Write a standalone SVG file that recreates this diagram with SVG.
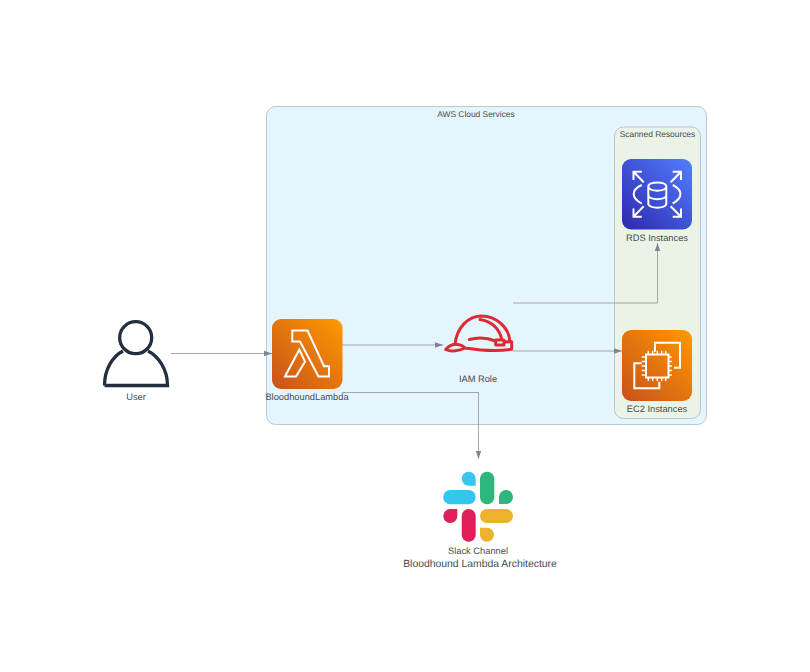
<svg xmlns="http://www.w3.org/2000/svg" width="810" height="672" viewBox="0 0 810 672">
<style>
text{font-family:"Liberation Sans",Arial,sans-serif;fill:#454c50;text-anchor:middle;font-size:9.3px;text-rendering:geometricPrecision}
.c{font-size:8.4px}
.e{fill:none;stroke:#7b8794;stroke-width:.7}
.w{fill:none;stroke:#fff;stroke-width:2;stroke-linejoin:miter}
.h{fill:none;stroke:#dd2a35;stroke-width:3;stroke-linecap:round;stroke-linejoin:round}
</style>
<defs>
<linearGradient id="o" x1="0" y1="1" x2="1" y2="0"><stop offset="0" stop-color="#c8511b"/><stop offset="1" stop-color="#f90"/></linearGradient>
<linearGradient id="b" x1="0" y1="1" x2="1" y2="0"><stop offset="0" stop-color="#2e27ad"/><stop offset="1" stop-color="#527fff"/></linearGradient>
<marker id="a" markerUnits="userSpaceOnUse" markerWidth="8" markerHeight="7" refX="8" refY="3.500" orient="auto"><path d="M0 .8L8 3.500L0 6.200z" fill="#7b8794"/></marker>
</defs>
<rect width="810" height="672" fill="#fff"/>
<g id="cluster-aws"><rect x="266.500" y="106.500" width="440" height="318" rx="9" fill="#e5f5fd" stroke="#a9bcc8" stroke-width=".8"/><text class="c" x="476" y="117">AWS Cloud Services</text></g>
<g id="cluster-scanned"><rect x="614.500" y="127" width="86" height="291.500" rx="9" fill="#ebf3e7" stroke="#a9bcc8" stroke-width=".8"/><text class="c" x="657.500" y="137">Scanned Resources</text></g>
<g id="connectors">
<path class="e" marker-end="url(#a)" d="M171 353.500H272"/>
<path class="e" marker-end="url(#a)" d="M342 345H443"/>
<path class="e" marker-end="url(#a)" d="M342 392.500H478.500V459"/>
<path class="e" marker-end="url(#a)" d="M513 351H622"/>
<path class="e" marker-end="url(#a)" d="M513 303H657.500V243"/>
</g>
<g id="user"><circle cx="135.700" cy="337.700" r="16" fill="none" stroke="#232f3e" stroke-width="3.300"/><path d="M104.500 385.500H167.500C167.500 369 158 356 148 351M123 351C113 356 104.500 369 104.500 385.500" fill="none" stroke="#232f3e" stroke-width="3.300"/><text x="136" y="400">User</text></g>
<g id="lambda"><rect x="272" y="319" width="70.500" height="70" rx="9" fill="url(#o)"/><path class="w" d="M292.300 330.500H307.500L324 366.200H329V376.500H318.500L300 341.500H292.300zM299.300 349.500L305 361.700L296 376.500H285z"/><text x="307" y="400">BloodhoundLambda</text></g>
<g id="iam"><path class="h" d="M455 344.300C457 327 468 316.500 481 316C497 316 509 328 510 341.700M445.700 349.500C449 346 452 344.500 455 344.300C459 344.300 463 346 465 348C459 351 451 352 445.700 349.500zM465 348C478 350 495 352 511.700 349.300V341.700L504 342M480 319.500C492 321 500 330 501.500 339M469.300 339.500C478 337 487 337.500 495.500 341M495.700 340H504V345H495.700z"/><text x="478" y="382">IAM Role</text></g>
<g id="rds"><rect x="622" y="159" width="70" height="70.500" rx="9" fill="url(#b)"/><path class="w" d="M633.500 180V171.800H641.800M633.500 171.800L643.700 182.300M681 180V171.800H672.700M681 171.800L670.700 182.300M633.500 208.500V216.700H641.800M633.500 216.700L643.700 206.300M681 208.500V216.700H672.700M681 216.700L670.700 206.300M641.700 185C631 190 631 198 641.700 203.500M672.700 185C683 190 683 198 672.700 203.500"/><path class="w" d="M648.300 186.500C648.300 181 666.300 181 666.300 186.500V203.500C666.300 209 648.300 209 648.300 203.500zM648.300 186.500C648.300 192 666.300 192 666.300 186.500M648.300 195C648.300 200.500 666.300 200.500 666.300 195"/><text x="657" y="241">RDS Instances</text></g>
<g id="ec2"><rect x="622" y="330" width="70" height="71" rx="9" fill="url(#o)"/><path class="w" d="M655 351.700V342.700H680V367.700H674M641.700 363.300H634.300V388.300H659.300V381.700"/><rect class="w" x="646" y="354.500" width="22.500" height="23"/><path class="w" style="stroke-width:1.400" d="M648.300 350.700V354.500M652.700 350.700V354.500M657.300 350.700V354.500M661.700 350.700V354.500M665.700 350.700V354.500M648.300 377.500V381M652.700 377.500V381M657.300 377.500V381M661.700 377.500V381M665.700 377.500V381M641.700 357H646M641.700 361.500H646M641.700 366H646M641.700 370.500H646M641.700 375H646M668.500 357H672M668.500 361.500H672M668.500 366H672M668.500 370.500H672M668.500 375H672"/><text x="657" y="412">EC2 Instances</text></g>
<g id="slack">
<path fill="#36c5f0" d="M468.700 471.700a7 7 0 0 0 0 14h7v-7a7 7 0 0 0-7-7zM450.300 490h18.300a7.150 7.150 0 0 1 0 14.300h-18.300a7.150 7.150 0 0 1 0-14.300z"/>
<path fill="#2eb67d" d="M506 490a7 7 0 0 1 7 7a7 7 0 0 1-7 7h-7v-7a7 7 0 0 1 7-7zM487.150 471.700a7.150 7.150 0 0 1 7.150 7.150v18.300a7.150 7.150 0 0 1-14.300 0v-18.300a7.150 7.150 0 0 1 7.150-7.150z"/>
<path fill="#e01e5a" d="M450.300 523a7 7 0 0 1 0-14h7v7a7 7 0 0 1-7 7zM468.700 509a7 7 0 0 1 7 7v18.700a7 7 0 0 1-14 0v-18.700a7 7 0 0 1 7-7z"/>
<path fill="#ecb22e" d="M487 541.700a7 7 0 0 0 0-14h-7v7a7 7 0 0 0 7 7zM487 509h19a7 7 0 0 1 0 14h-19a7 7 0 0 1 0-14z"/>
<text x="478" y="554">Slack Channel</text></g>
<text id="title" x="480" y="567" style="font-size:10.400px">Bloodhound Lambda Architecture</text>
</svg>
